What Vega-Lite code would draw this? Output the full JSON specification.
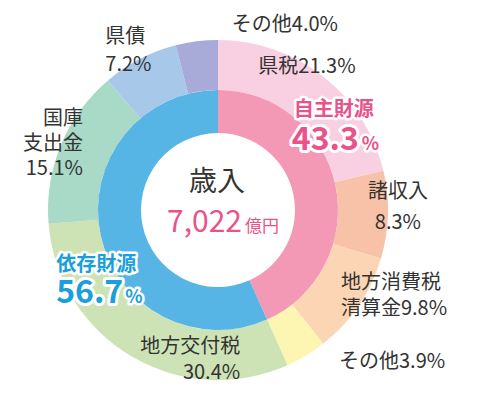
{
  "$schema": "https://vega.github.io/schema/vega-lite/v6.json",
  "autosize": "none",
  "width": 340,
  "height": 340,
  "padding": {"left": 48, "top": 40, "right": 100, "bottom": 15},
  "background": "white",
  "config": {"view": {"stroke": null}, "text": {"font": "Noto Sans CJK JP"}},
  "datasets": {
    "outer": [
      {"i": 1, "item": "県税", "v": 21.3, "label": "県税21.3%"},
      {"i": 2, "item": "諸収入", "v": 8.3, "label": ["諸収入", "8.3%"]},
      {"i": 3, "item": "地方消費税清算金", "v": 9.8, "label": ["地方消費税", "清算金9.8%"]},
      {"i": 4, "item": "その他(自主)", "v": 3.9, "label": "その他3.9%"},
      {"i": 5, "item": "地方交付税", "v": 30.4, "label": ["地方交付税", "30.4%"]},
      {"i": 6, "item": "国庫支出金", "v": 15.1, "label": ["国庫", "支出金", "15.1%"]},
      {"i": 7, "item": "県債", "v": 7.2, "label": ["県債", "7.2%"]},
      {"i": 8, "item": "その他(依存)", "v": 4.0, "label": "その他4.0%"}
    ],
    "inner": [
      {"i": 1, "item": "自主財源", "v": 43.3, "name": "自主財源", "pct": "43.3"},
      {"i": 2, "item": "依存財源", "v": 56.7, "name": "依存財源", "pct": "56.7"}
    ],
    "center": [
      {"title": "歳入", "total": "7,022", "unit": "億円"}
    ]
  },
  "layer": [
    {
      "data": {"name": "outer"},
      "encoding": {
        "theta": {"field": "v", "type": "quantitative", "stack": true},
        "order": {"field": "i", "type": "quantitative"}
      },
      "layer": [
        {
          "mark": {"type": "arc", "outerRadius": 170, "innerRadius": 120},
          "encoding": {
            "color": {
              "field": "item", "type": "nominal", "legend": null,
              "scale": {
                "domain": ["県税", "諸収入", "地方消費税清算金", "その他(自主)", "地方交付税", "国庫支出金", "県債", "その他(依存)", "自主財源", "依存財源"],
                "range": ["#f9d0e2", "#f8c2a8", "#fcd5b4", "#fdf5b2", "#cde3b5", "#a9d9c7", "#a8c8ea", "#a8abd8", "#f399b5", "#56b5e5"]
              }
            }
          }
        },
        {
          "mark": {"type": "text", "radius": 145, "align": "center", "baseline": "middle", "dx": -1, "dy": -29, "fontSize": 20, "fill": "#333333"},
          "encoding": {"text": {"condition": {"test": "datum.item === '県税'", "field": "label"}, "value": ""}}
        },
        {
          "mark": {"type": "text", "radius": 145, "align": "center", "baseline": "middle", "dx": 35, "dy": -22, "lineHeight": 31, "fontSize": 20, "fill": "#333333"},
          "encoding": {"text": {"condition": {"test": "datum.item === '諸収入'", "field": "label"}, "value": ""}}
        },
        {
          "mark": {"type": "text", "radius": 145, "align": "left", "baseline": "middle", "dx": 3, "dy": -9, "lineHeight": 26, "fontSize": 20, "fill": "#333333"},
          "encoding": {"text": {"condition": {"test": "datum.item === '地方消費税清算金'", "field": "label"}, "value": ""}}
        },
        {
          "mark": {"type": "text", "radius": 145, "align": "left", "baseline": "middle", "dx": 46, "dy": 28, "fontSize": 20, "fill": "#333333"},
          "encoding": {"text": {"condition": {"test": "datum.item === 'その他(自主)'", "field": "label"}, "value": ""}}
        },
        {
          "mark": {"type": "text", "radius": 145, "align": "right", "baseline": "middle", "dx": 96, "dy": 12, "lineHeight": 26, "fontSize": 20, "fill": "#333333"},
          "encoding": {"text": {"condition": {"test": "datum.item === '地方交付税'", "field": "label"}, "value": ""}}
        },
        {
          "mark": {"type": "text", "radius": 145, "align": "right", "baseline": "middle", "dx": -1, "dy": -36, "lineHeight": 25, "fontSize": 20, "fill": "#333333"},
          "encoding": {"text": {"condition": {"test": "datum.item === '国庫支出金'", "field": "label"}, "value": ""}}
        },
        {
          "mark": {"type": "text", "radius": 145, "align": "left", "baseline": "middle", "dx": -46, "dy": -44, "lineHeight": 28, "fontSize": 20, "fill": "#333333"},
          "encoding": {"text": {"condition": {"test": "datum.item === '県債'", "field": "label"}, "value": ""}}
        },
        {
          "mark": {"type": "text", "radius": 145, "align": "left", "baseline": "middle", "dx": 32, "dy": -41, "fontSize": 20, "fill": "#333333"},
          "encoding": {"text": {"condition": {"test": "datum.item === 'その他(依存)'", "field": "label"}, "value": ""}}
        }
      ]
    },
    {
      "data": {"name": "inner"},
      "encoding": {
        "theta": {"field": "v", "type": "quantitative", "stack": true},
        "order": {"field": "i", "type": "quantitative"}
      },
      "layer": [
        {
          "mark": {"type": "arc", "outerRadius": 120, "innerRadius": 77},
          "encoding": {
            "color": {
              "field": "item", "type": "nominal", "legend": null,
              "scale": {
                "domain": ["県税", "諸収入", "地方消費税清算金", "その他(自主)", "地方交付税", "国庫支出金", "県債", "その他(依存)", "自主財源", "依存財源"],
                "range": ["#f9d0e2", "#f8c2a8", "#fcd5b4", "#fdf5b2", "#cde3b5", "#a9d9c7", "#a8c8ea", "#a8abd8", "#f399b5", "#56b5e5"]
              }
            }
          }
        },
        {
          "mark": {"type": "text", "radius": 100, "align": "center", "baseline": "middle", "dx": 18, "dy": -79, "fontSize": 20, "fontWeight": "bold", "fill": "white", "stroke": "white", "strokeWidth": 5, "strokeJoin": "round"},
          "encoding": {"text": {"condition": {"test": "datum.item === '自主財源'", "field": "name"}, "value": ""}}
        },
        {
          "mark": {"type": "text", "radius": 100, "align": "center", "baseline": "middle", "dx": 18, "dy": -79, "fontSize": 20, "fontWeight": "bold", "fill": "#e8538a"},
          "encoding": {"text": {"condition": {"test": "datum.item === '自主財源'", "field": "name"}, "value": ""}}
        },
        {
          "mark": {"type": "text", "radius": 100, "align": "right", "baseline": "alphabetic", "dx": 43, "dy": -39, "fontSize": 32, "fontWeight": "bold", "fill": "white", "stroke": "white", "strokeWidth": 6, "strokeJoin": "round"},
          "encoding": {"text": {"condition": {"test": "datum.item === '自主財源'", "field": "pct"}, "value": ""}}
        },
        {
          "mark": {"type": "text", "radius": 100, "align": "right", "baseline": "alphabetic", "dx": 43, "dy": -39, "fontSize": 32, "fontWeight": "bold", "fill": "#e8538a"},
          "encoding": {"text": {"condition": {"test": "datum.item === '自主財源'", "field": "pct"}, "value": ""}}
        },
        {
          "mark": {"type": "text", "radius": 100, "align": "left", "baseline": "alphabetic", "dx": 46, "dy": -39, "fontSize": 18, "fontWeight": "bold", "fill": "white", "stroke": "white", "strokeWidth": 5, "strokeJoin": "round"},
          "encoding": {"text": {"condition": {"test": "datum.item === '自主財源'", "value": "%"}, "value": ""}}
        },
        {
          "mark": {"type": "text", "radius": 100, "align": "left", "baseline": "alphabetic", "dx": 46, "dy": -39, "fontSize": 18, "fontWeight": "bold", "fill": "#e8538a"},
          "encoding": {"text": {"condition": {"test": "datum.item === '自主財源'", "value": "%"}, "value": ""}}
        },
        {
          "mark": {"type": "text", "radius": 100, "align": "center", "baseline": "middle", "dx": -24, "dy": 34, "fontSize": 20, "fontWeight": "bold", "fill": "white", "stroke": "white", "strokeWidth": 5, "strokeJoin": "round"},
          "encoding": {"text": {"condition": {"test": "datum.item === '依存財源'", "field": "name"}, "value": ""}}
        },
        {
          "mark": {"type": "text", "radius": 100, "align": "center", "baseline": "middle", "dx": -24, "dy": 34, "fontSize": 20, "fontWeight": "bold", "fill": "#1a9fdb"},
          "encoding": {"text": {"condition": {"test": "datum.item === '依存財源'", "field": "name"}, "value": ""}}
        },
        {
          "mark": {"type": "text", "radius": 100, "align": "right", "baseline": "alphabetic", "dx": 3, "dy": 72, "fontSize": 32, "fontWeight": "bold", "fill": "white", "stroke": "white", "strokeWidth": 6, "strokeJoin": "round"},
          "encoding": {"text": {"condition": {"test": "datum.item === '依存財源'", "field": "pct"}, "value": ""}}
        },
        {
          "mark": {"type": "text", "radius": 100, "align": "right", "baseline": "alphabetic", "dx": 3, "dy": 72, "fontSize": 32, "fontWeight": "bold", "fill": "#1a9fdb"},
          "encoding": {"text": {"condition": {"test": "datum.item === '依存財源'", "field": "pct"}, "value": ""}}
        },
        {
          "mark": {"type": "text", "radius": 100, "align": "left", "baseline": "alphabetic", "dx": 5, "dy": 72, "fontSize": 18, "fontWeight": "bold", "fill": "white", "stroke": "white", "strokeWidth": 5, "strokeJoin": "round"},
          "encoding": {"text": {"condition": {"test": "datum.item === '依存財源'", "value": "%"}, "value": ""}}
        },
        {
          "mark": {"type": "text", "radius": 100, "align": "left", "baseline": "alphabetic", "dx": 5, "dy": 72, "fontSize": 18, "fontWeight": "bold", "fill": "#1a9fdb"},
          "encoding": {"text": {"condition": {"test": "datum.item === '依存財源'", "value": "%"}, "value": ""}}
        }
      ]
    },
    {
      "data": {"name": "center"},
      "layer": [
        {
          "mark": {"type": "text", "align": "center", "baseline": "middle", "dx": -1, "dy": -27, "fontSize": 28, "fill": "#333333"},
          "encoding": {"text": {"field": "title"}}
        },
        {
          "mark": {"type": "text", "align": "right", "baseline": "alphabetic", "dx": 24, "dy": 22, "fontSize": 30, "fill": "#e8538a"},
          "encoding": {"text": {"field": "total"}}
        },
        {
          "mark": {"type": "text", "align": "left", "baseline": "alphabetic", "dx": 27, "dy": 22, "fontSize": 17, "fill": "#e8538a"},
          "encoding": {"text": {"field": "unit"}}
        }
      ]
    }
  ]
}
